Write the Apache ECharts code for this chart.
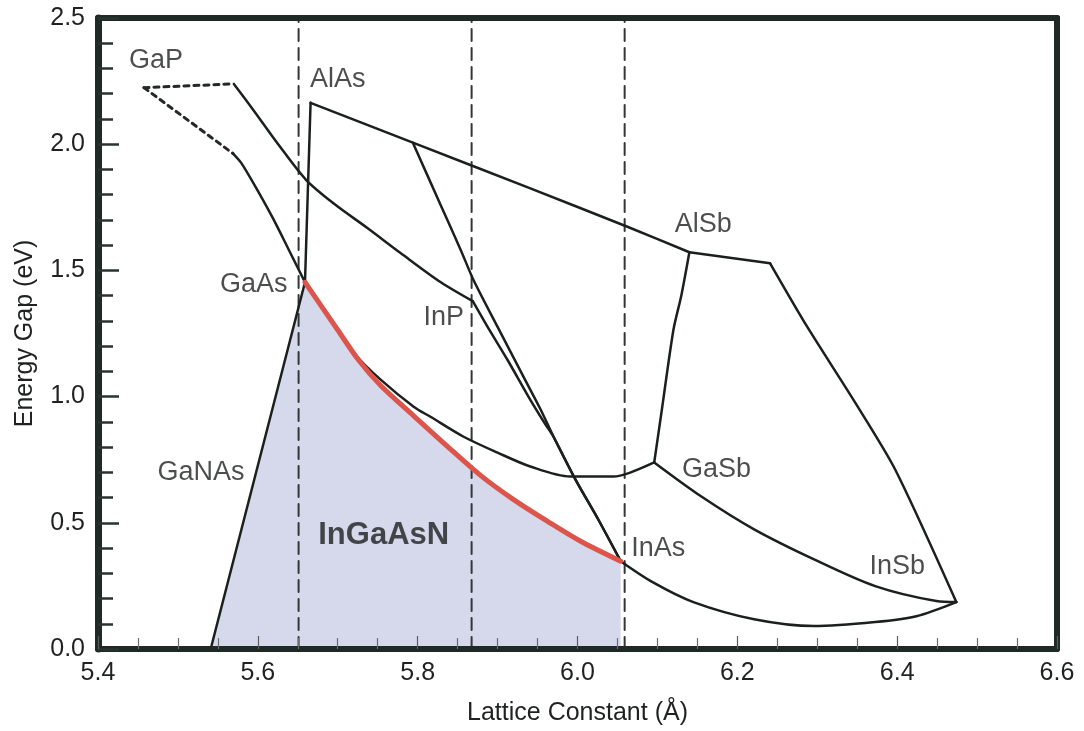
<!DOCTYPE html>
<html>
<head>
<meta charset="utf-8">
<title>Energy Gap vs Lattice Constant</title>
<script src="https://cdn.jsdelivr.net/npm/echarts@6/dist/echarts.min.js"></script>
<style>
  html, body { margin: 0; padding: 0; background: #ffffff; }
  #chart { width: 1084px; height: 731px; }
</style>
</head>
<body>
<div id="chart"></div>
<script>
// Axis tick labels
const xTicks = [5.4, 5.6, 5.8, 6.0, 6.2, 6.4, 6.6];
const yTicks = [0.0, 0.5, 1.0, 1.5, 2.0, 2.5];

// Lattice constants of the binaries marked by dashed guide lines (GaAs, InP, InAs)
const dashX = [5.651, 5.8675, 6.059];

// Ternary alloy curves: [lattice constant (Å), energy gap (eV)]
const gapDotA = [[5.4575, 2.224], [5.570, 2.239]];
const gapDotB = [[5.4575, 2.224], [5.569, 1.963]];
const gaInP  = [[5.570, 2.239], [5.595, 2.133], [5.625, 2.002], [5.660, 1.860], [5.695, 1.765],
                [5.7375, 1.667], [5.779, 1.568], [5.829, 1.453], [5.869, 1.378]];
const gaAsP  = [[5.569, 1.963], [5.579, 1.927], [5.5975, 1.829], [5.619, 1.706], [5.639, 1.580], [5.659, 1.453]];
const alGaAs = [[5.659, 1.453], [5.666, 2.164]];
const alAsSb = [[5.666, 2.164], [5.794, 2.006], [5.941, 1.825], [6.064, 1.671], [6.140, 1.572]];
const alSbKnee = [[6.140, 1.572], [6.241, 1.528]];
const alInSb = [[6.241, 1.528], [6.286, 1.284], [6.3475, 0.976], [6.3975, 0.711], [6.474, 0.186]];
const alGaSb = [[6.140, 1.572], [6.130, 1.402], [6.120, 1.264], [6.105, 0.936], [6.096, 0.739]];
const gaInSb = [[6.096, 0.739], [6.155, 0.604], [6.221, 0.474], [6.296, 0.355], [6.3725, 0.249],
                [6.449, 0.190], [6.474, 0.186]];
const gaAsSb = [[5.659, 1.453], [5.691, 1.311], [5.7225, 1.165], [5.754, 1.066], [5.795, 0.960],
                [5.816, 0.920], [5.8575, 0.841], [5.900, 0.778], [5.941, 0.723], [5.991, 0.683],
                [6.045, 0.683], [6.066, 0.699], [6.096, 0.739]];
const inAsSb = [[6.054, 0.348], [6.094, 0.265], [6.145, 0.186], [6.221, 0.118], [6.296, 0.091],
                [6.3725, 0.107], [6.424, 0.130], [6.474, 0.186]];
const alInAs = [[5.794, 2.006], [5.829, 1.757], [5.854, 1.580], [5.870, 1.461], [5.900, 1.276],
                [5.9325, 1.078], [5.954, 0.948], [5.970, 0.841], [5.9975, 0.671], [6.026, 0.513], [6.054, 0.348]];
const inAsP  = [[5.869, 1.378], [5.8875, 1.276], [5.9125, 1.145], [5.941, 0.987], [5.960, 0.889],
                [5.970, 0.841], [5.9975, 0.671], [6.026, 0.513], [6.054, 0.348]];
const gaNAs  = [[5.541, 0.0], [5.659, 1.453]];
const inGaAsN = [[5.659, 1.453], [5.700, 1.264], [5.726, 1.145], [5.754, 1.043], [5.795, 0.924],
                 [5.8375, 0.802], [5.879, 0.687], [5.920, 0.592], [5.9625, 0.506], [6.004, 0.427], [6.054, 0.348]];

// Compound labels
const labelNames = ['GaP', 'AlAs', 'GaAs', 'InP', 'AlSb', 'GaNAs', 'GaSb', 'InAs', 'InSb'];
const labelX = [5.4725, 5.700, 5.595, 5.8325, 6.1575, 5.529, 6.174, 6.101, 6.400];
const labelY = [2.330, 2.255, 1.442, 1.315, 1.682, 0.699, 0.711, 0.399, 0.328];
const regionName = 'InGaAsN';
const regionPos = [5.7575, 0.450];

const FONT = '"Liberation Sans", Arial, Helvetica, sans-serif';
const INK = '#1b201f';
const FRAME = '#1f2a27';
const TEXT = '#1f2221';

function curve(name, data, opts) {
  opts = opts || {};
  return {
    name: name,
    type: 'line',
    data: data,
    symbol: 'none',
    smooth: opts.smooth || false,
    z: opts.z || 4,
    silent: true,
    lineStyle: {
      color: opts.color || INK,
      width: opts.width || 2.5,
      type: opts.type || 'solid',
      cap: 'round',
      join: 'round'
    }
  };
}

const chart = echarts.init(document.getElementById('chart'), null, { renderer: 'canvas' });

const series = [];

// Shaded InGaAsN region: under the GaNAs edge and the red boundary, down to 0 eV
series.push({
  name: 'region',
  type: 'line',
  data: gaNAs.concat(inGaAsN.slice(1)),
  symbol: 'none',
  silent: true,
  z: 1,
  lineStyle: { width: 0 },
  areaStyle: { color: '#d6d9eb', opacity: 1 }
});

// Dashed guides
dashX.forEach(function (x, i) {
  series.push(curve('guide' + i, [[x, 0], [x, 2.5]], { color: '#333736', width: 2, type: [12, 7], z: 2 }));
});

// Indirect-gap dotted segments from GaP
series.push(curve('GaP-a', gapDotA, { type: [5, 5], width: 3, color: '#242827' }));
series.push(curve('GaP-b', gapDotB, { type: [5, 5], width: 3, color: '#242827' }));

// Solid ternary curves
series.push(curve('GaInP', gaInP, { smooth: 0.3 }));
series.push(curve('GaAsP', gaAsP, { smooth: 0.25 }));
series.push(curve('AlGaAs', alGaAs));
series.push(curve('AlAsSb', alAsSb, { smooth: 0.2 }));
series.push(curve('AlSb-knee', alSbKnee));
series.push(curve('AlInSb', alInSb, { smooth: 0.25 }));
series.push(curve('AlGaSb', alGaSb, { smooth: 0.25 }));
series.push(curve('GaInSb', gaInSb, { smooth: 0.3 }));
series.push(curve('GaAsSb', gaAsSb, { smooth: 0.3 }));
series.push(curve('InAsSb', inAsSb, { smooth: 0.3 }));
series.push(curve('AlInAs', alInAs, { smooth: 0.25 }));
series.push(curve('InAsP', inAsP, { smooth: 0.25 }));
series.push(curve('GaNAs', gaNAs));
series.push(curve('InGaAsN', inGaAsN, { smooth: 0.3, color: '#dd544b', width: 5, z: 5 }));

// Compound labels
series.push({
  name: 'labels',
  type: 'scatter',
  symbolSize: 1,
  silent: true,
  z: 6,
  itemStyle: { color: 'rgba(0,0,0,0)' },
  label: {
    show: true,
    position: 'inside',
    formatter: '{b}',
    fontFamily: FONT,
    fontSize: 27,
    color: TEXT
  },
  data: labelNames.map(function (n, i) { return { name: n, value: [labelX[i], labelY[i]] }; })
});
series.push({
  name: 'region-label',
  type: 'scatter',
  symbolSize: 1,
  silent: true,
  z: 6,
  itemStyle: { color: 'rgba(0,0,0,0)' },
  label: {
    show: true,
    position: 'inside',
    formatter: '{b}',
    fontFamily: FONT,
    fontSize: 31,
    fontWeight: 'bold',
    color: '#1c1f1e'
  },
  data: [{ name: regionName, value: regionPos }]
});

const axisText = { fontFamily: FONT, fontSize: 25, color: TEXT };

chart.setOption({
  backgroundColor: '#ffffff',
  animation: false,
  grid: { left: 98, right: 27, top: 18, bottom: 81, containLabel: false },
  xAxis: [
    {
      type: 'value',
      position: 'bottom',
      min: xTicks[0],
      max: xTicks[xTicks.length - 1],
      interval: 0.2,
      z: 10,
      name: 'Lattice Constant (Å)',
      nameLocation: 'middle',
      nameGap: 52,
      nameTextStyle: axisText,
      axisLine: { show: true, onZero: false, lineStyle: { color: FRAME, width: 6 } },
      axisTick: { show: true, inside: true, length: 13, lineStyle: { color: '#5a5f5d', width: 1.2 } },
      minorTick: { show: true, splitNumber: 4, length: 11, lineStyle: { color: '#6a6f6d', width: 1.2 } },
      axisLabel: Object.assign({ margin: 12, formatter: function (v) { return v.toFixed(1); } }, axisText),
      splitLine: { show: false },
      minorSplitLine: { show: false }
    },
    {
      type: 'value',
      position: 'top',
      min: xTicks[0],
      max: xTicks[xTicks.length - 1],
      z: 10,
      axisLine: { show: true, onZero: false, lineStyle: { color: FRAME, width: 6 } },
      axisTick: { show: false },
      axisLabel: { show: false },
      splitLine: { show: false }
    }
  ],
  yAxis: [
    {
      type: 'value',
      position: 'left',
      min: yTicks[0],
      max: yTicks[yTicks.length - 1],
      interval: 0.5,
      z: 10,
      name: 'Energy Gap (eV)',
      nameLocation: 'middle',
      nameGap: 60,
      nameTextStyle: axisText,
      axisLine: { show: true, onZero: false, lineStyle: { color: FRAME, width: 7 } },
      axisTick: { show: true, inside: true, length: 21, lineStyle: { color: '#2a3330', width: 2.5 } },
      minorTick: { show: true, splitNumber: 5, length: 15, lineStyle: { color: '#2a3330', width: 2.5 } },
      axisLabel: Object.assign({ margin: 13, formatter: function (v) { return v.toFixed(1); } }, axisText),
      splitLine: { show: false },
      minorSplitLine: { show: false }
    },
    {
      type: 'value',
      position: 'right',
      min: yTicks[0],
      max: yTicks[yTicks.length - 1],
      z: 10,
      axisLine: { show: true, onZero: false, lineStyle: { color: FRAME, width: 6 } },
      axisTick: { show: false },
      axisLabel: { show: false },
      splitLine: { show: false }
    }
  ],
  series: series
});
</script>
</body>
</html>
